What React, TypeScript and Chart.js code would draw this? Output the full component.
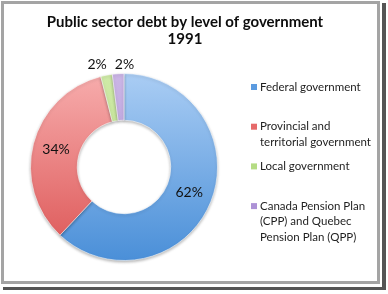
import React, { useEffect, useRef } from "react";
import { Chart, registerables } from "chart.js";

Chart.register(...registerables);

const titleLines = ["Public sector debt by level of government", "1991"];
const categories = [
  ["Federal government"],
  ["Provincial and", "territorial government"],
  ["Local government"],
  ["Canada Pension Plan", "(CPP) and Quebec", "Pension Plan (QPP)"],
];
const shares = [62, 34, 2, 2];
// light (top) and dark (bottom) stops of each slice's vertical gradient
const lightColors = ["#aacdf4", "#f7adad", "#cfeaa8", "#cbb6e6"];
const darkColors = ["#4a8fd8", "#dc5454", "#b2da7c", "#a88ad2"];
const legendColors = ["#5b9be0", "#e66a6a", "#b5dc84", "#ad92d6"];

const FONT = "Lato, 'Open Sans', sans-serif";

const overlayPlugin = {
  id: "overlay",
  beforeDatasetsDraw(chart: any) {
    const ctx = chart.ctx;
    ctx.save();
    ctx.shadowColor = "rgba(0,0,0,0.28)";
    ctx.shadowBlur = 3;
    ctx.shadowOffsetY = 1.5;
  },
  afterDatasetsDraw(chart: any) {
    const ctx = chart.ctx;
    ctx.restore();
    const meta = chart.getDatasetMeta(0);
    const total = shares.reduce((a, b) => a + b, 0);

    // value labels
    ctx.save();
    ctx.font = `14px ${FONT}`;
    ctx.fillStyle = "#111";
    ctx.textAlign = "center";
    ctx.textBaseline = "middle";
    const outside: { text: string; x: number; y: number }[] = [];
    meta.data.forEach((arc: any, i: number) => {
      const pct = Math.round((shares[i] / total) * 100);
      const text = `${pct}%`;
      const mid = (arc.startAngle + arc.endAngle) / 2;
      if (pct >= 5) {
        const r = (arc.innerRadius + arc.outerRadius) / 2;
        ctx.fillText(text, arc.x + r * Math.cos(mid), arc.y + r * Math.sin(mid));
      } else {
        const r = arc.outerRadius + 12;
        outside.push({ text, x: arc.x + r * Math.cos(mid), y: arc.y - arc.outerRadius - 9 });
      }
    });
    if (outside.length) {
      const w = Math.max(...outside.map((o) => ctx.measureText(o.text).width)) + 8;
      const mean = outside.reduce((a, o) => a + o.x, 0) / outside.length;
      outside.sort((a, b) => a.x - b.x);
      outside.forEach((o, k) => {
        const x = mean + (k - (outside.length - 1) / 2) * w;
        ctx.fillText(o.text, x, o.y);
      });
    }
    ctx.restore();

    // title
    ctx.save();
    ctx.font = `bold 15px ${FONT}`;
    ctx.fillStyle = "#0d0d0d";
    ctx.textAlign = "center";
    ctx.textBaseline = "middle";
    titleLines.forEach((t, i) => ctx.fillText(t, 185, 22 + i * 17));
    ctx.restore();

    // legend
    ctx.save();
    ctx.font = `11.5px ${FONT}`;
    ctx.textBaseline = "middle";
    categories.forEach((lines, i) => {
      const y0 = 87 + i * 39.7;
      ctx.fillStyle = legendColors[i];
      ctx.fillRect(251, y0 - 3, 6, 6);
      ctx.fillStyle = "#1e1e1e";
      lines.forEach((ln, j) => ctx.fillText(ln, 260, y0 + j * 15.5));
    });
    ctx.restore();
  },
};

export default function App() {
  const ref = useRef<HTMLCanvasElement | null>(null);

  useEffect(() => {
    document.body.style.margin = "0";
    const canvas = ref.current;
    if (!canvas) return;
    const chart = new Chart(canvas, {
      type: "doughnut",
      data: {
        labels: categories.map((c) => c.join(" ")),
        datasets: [
          {
            data: shares,
            backgroundColor: (c: any) => {
              const area = c.chart.chartArea;
              if (!area) return lightColors[c.dataIndex];
              const g = c.chart.ctx.createLinearGradient(0, area.top, 0, area.bottom);
              g.addColorStop(0, lightColors[c.dataIndex]);
              g.addColorStop(1, darkColors[c.dataIndex]);
              return g;
            },
            borderColor: "rgba(255,255,255,0.55)",
            borderWidth: 1,
            hoverOffset: 0,
          },
        ],
      },
      options: {
        responsive: false,
        animation: false,
        cutout: "50%",
        layout: { padding: { left: 30, right: 170, top: 73, bottom: 33 } },
        plugins: {
          legend: { display: false },
          title: { display: false },
          tooltip: { enabled: false },
        },
      },
      plugins: [overlayPlugin],
    });
    return () => chart.destroy();
  }, []);

  return (
    <div style={{ position: "relative", width: 388, height: 294, background: "#fff" }}>
      {/* drop shadow of the frame */}
      <div
        style={{
          position: "absolute",
          left: 3,
          top: 3,
          width: 379,
          height: 284,
          borderRight: "4px solid #555",
          borderBottom: "3px solid #555",
        }}
      />
      {/* grey frame */}
      <div
        style={{
          position: "absolute",
          left: 1,
          top: 1,
          width: 373,
          height: 277,
          border: "3px solid #a4a4a4",
          background: "#fff",
        }}
      />
      <canvas
        ref={ref}
        width={388}
        height={294}
        style={{ position: "absolute", left: 0, top: 0, display: "block" }}
      />
    </div>
  );
}
